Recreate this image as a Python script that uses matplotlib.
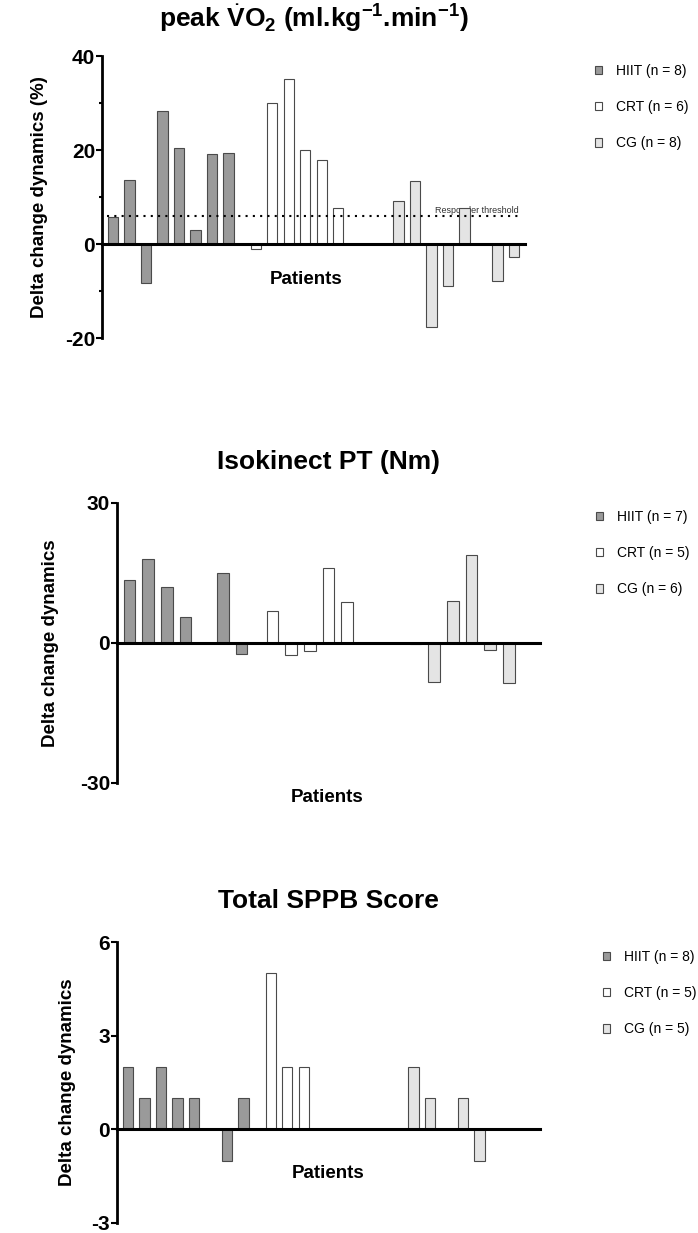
import matplotlib.pyplot as plt
from matplotlib.patches import Patch
from matplotlib.ticker import MultipleLocator
from matplotlib.transforms import blended_transform_factory

plt.rcParams['font.family'] = ['Liberation Sans', 'DejaVu Sans']
plt.rcParams['mathtext.fontset'] = 'custom'
plt.rcParams['mathtext.rm'] = 'Liberation Sans'
plt.rcParams['mathtext.bf'] = 'Liberation Sans:bold'
plt.rcParams['axes.unicode_minus'] = False

groups = ['HIIT', 'CRT', 'CG']
colors = ['#9a9a9a', 'white', '#e4e4e4']

# peak VO2 (% change)
vo2_hiit = [5.7, 13.6, -8.4, 28.4, 20.4, 2.9, 19.1, 19.4]
vo2_crt = [-1.1, 30.1, 35.2, 19.9, 17.8, 7.6]
vo2_cg = [9.1, 13.4, -17.6, -8.9, 7.6, 0, -7.9, -2.8]
vo2_n = [8, 6, 8]
vo2_threshold = 6

# isokinetic peak torque
pt_hiit = [13.4, 17.9, 12.0, 5.6, 0, 15.1, -2.4]
pt_crt = [6.9, -2.6, -1.8, 16.1, 8.7]
pt_cg = [-0.2, -8.3, 9.0, 18.8, -1.4, -8.6]
pt_n = [7, 5, 6]

# total SPPB score
sppb_hiit = [2, 1, 2, 1, 1, 0, -1, 1]
sppb_crt = [5, 2, 2, 0, 0]
sppb_cg = [2, 1, 0, 1, -1]
sppb_n = [8, 5, 5]

fig = plt.figure(figsize=(6.98, 12.33), dpi=100)


def panel(rect, series, ns, slots, ylim, ystep, title, ylabel, title_pad,
          ylab_x, patients_xy, leg_xy, minor=None):
    ax = fig.add_axes(rect)
    gap = 0.66
    for g, vals in enumerate(series):
        xs = [g * (slots + gap) + i for i in range(len(vals))]
        ax.bar(xs, vals, width=0.62, color=colors[g], edgecolor='#4a4a4a',
               linewidth=0.8, zorder=2)
    ax.set_xlim(-0.67, 3 * slots + 2 * gap - 1 + 0.67)
    ax.set_ylim(*ylim)
    ax.yaxis.set_major_locator(MultipleLocator(ystep))
    if minor:
        ax.yaxis.set_minor_locator(MultipleLocator(minor))
    for s in ['top', 'right']:
        ax.spines[s].set_visible(False)
    ax.spines['bottom'].set_position(('data', 0))
    ax.spines['bottom'].set_linewidth(2.2)
    ax.spines['bottom'].set_zorder(3)
    ax.spines['left'].set_linewidth(2)
    ax.set_xticks([])
    ax.tick_params(axis='y', which='major', length=4, width=1.5, pad=1,
                   labelsize=15)
    ax.tick_params(axis='y', which='minor', length=2, width=1.5)
    for lab in ax.get_yticklabels():
        lab.set_fontweight('bold')
    ax.set_title(title, fontsize=19, fontweight='bold', pad=title_pad)
    ax.set_ylabel(ylabel, fontsize=13.5, fontweight='bold')
    ax.yaxis.set_label_coords(ylab_x, 0.5)
    tr = blended_transform_factory(ax.transAxes, ax.transData)
    ax.text(patients_xy[0], patients_xy[1], 'Patients', fontsize=13.5,
            fontweight='bold', ha='center', va='center', transform=tr,
            clip_on=False)
    handles = [Patch(facecolor=colors[g], edgecolor='#4a4a4a', linewidth=0.8)
               for g in range(3)]
    labels = ['%s (n = %d)' % (groups[g], ns[g]) for g in range(3)]
    ax.legend(handles, labels, loc='upper left', bbox_to_anchor=leg_xy,
              frameon=False, fontsize=10, handlelength=0.55, handleheight=0.55,
              handletextpad=1.0, labelspacing=1.6, borderpad=0, borderaxespad=0)
    return ax


ax1 = panel([102 / 698, 1 - 338 / 1233, 423 / 698, 282 / 1233],
            [vo2_hiit, vo2_crt, vo2_cg], vo2_n, 8, (-20, 40), 20,
            r'peak $\dot{\mathbf{V}}$O$_{\mathbf{2}}$ (ml.kg$^{\mathbf{-1}}$.min$^{\mathbf{-1}}$)',
            'Delta change dynamics (%)', 21.5, -0.128, (0.482, -7.45),
            (1.165, 0.972), minor=10)
ax1.axhline(vo2_threshold, xmin=0.012, xmax=0.993, color='black', lw=1.5,
            ls=(0, (1, 2.5)), zorder=4)
ax1.text(0.986, vo2_threshold + 0.6, 'Responder threshold', fontsize=6.5,
         color='#333333', ha='right', va='baseline', zorder=1,
         transform=blended_transform_factory(ax1.transAxes, ax1.transData))

panel([117 / 698, 1 - 783 / 1233, 423 / 698, 280 / 1233],
      [pt_hiit, pt_crt, pt_cg], pt_n, 7, (-30, 30), 30,
      'Isokinect PT (Nm)', 'Delta change dynamics', 24.5, -0.137,
      (0.496, -33.2), (1.132, 0.975))

panel([117 / 698, 1 - 1223 / 1233, 423 / 698, 281 / 1233],
      [sppb_hiit, sppb_crt, sppb_cg], sppb_n, 8, (-3, 6), 3,
      'Total SPPB Score', 'Delta change dynamics', 24.5, -0.097,
      (0.50, -1.4), (1.148, 0.972))

fig.savefig('out.png', dpi=100)
